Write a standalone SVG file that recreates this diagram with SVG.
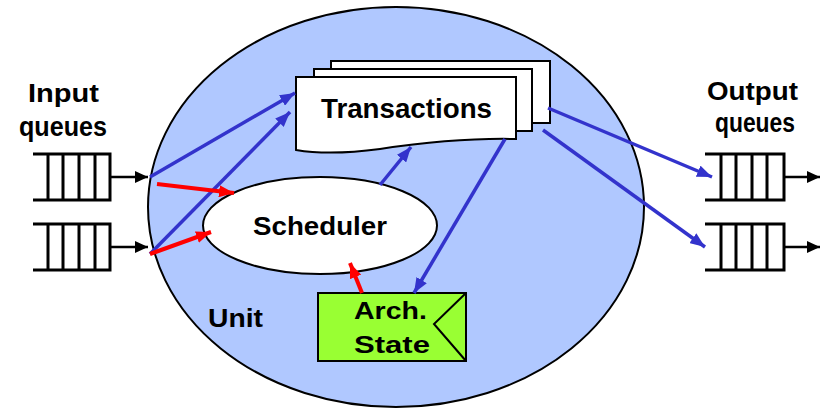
<svg xmlns="http://www.w3.org/2000/svg" width="823" height="409" viewBox="0 0 823 409">
<defs>
<style>
.lbl{font-family:"Comic Sans MS","Liberation Sans","DejaVu Sans",sans-serif;font-weight:bold;fill:#000}
.q{stroke:#000;stroke-width:3;fill:none}
.blue{stroke:#3333cc;stroke-width:3.5;fill:none}
.red{stroke:#ff0000;stroke-width:4;fill:none}
.blk{stroke:#000;stroke-width:2.5;fill:none}
.page{fill:#fff;stroke:#000;stroke-width:2}
</style>
<marker id="ab" markerUnits="userSpaceOnUse" markerWidth="16" markerHeight="12" refX="15" refY="6" orient="auto"><path d="M0,0 L15,6 L0,12 Z" fill="#3333cc"/></marker>
<marker id="ar" markerUnits="userSpaceOnUse" markerWidth="16" markerHeight="12" refX="15" refY="6" orient="auto"><path d="M0,0 L15,6 L0,12 Z" fill="#ff0000"/></marker>
<marker id="ak" markerUnits="userSpaceOnUse" markerWidth="14" markerHeight="12" refX="13" refY="6" orient="auto"><path d="M0,0 L13,6 L0,12 Z" fill="#000"/></marker>
</defs>

<g id="unit">
<ellipse cx="396" cy="207" rx="248" ry="200" fill="#b0c8ff" stroke="#000" stroke-width="2"/>
<text class="lbl" x="208" y="327" font-size="25" textLength="55" lengthAdjust="spacingAndGlyphs">Unit</text>
</g>

<g id="input-label">
<text class="lbl" x="28" y="102" font-size="25" textLength="71" lengthAdjust="spacingAndGlyphs">Input</text>
<text class="lbl" x="19" y="136" font-size="28" textLength="88" lengthAdjust="spacingAndGlyphs">queues</text>
</g>
<g id="output-label">
<text class="lbl" x="707" y="100" font-size="25" textLength="91" lengthAdjust="spacingAndGlyphs">Output</text>
<text class="lbl" x="715" y="132" font-size="28" textLength="80" lengthAdjust="spacingAndGlyphs">queues</text>
</g>

<g id="input-queue-1">
<path class="q" d="M33,154 H110 V200 H33 M48,154 V200 M63,154 V200 M79,154 V200 M95,154 V200"/>
</g>
<g id="input-queue-2">
<path class="q" d="M33,224 H110 V270 H33 M48,224 V270 M63,224 V270 M79,224 V270 M95,224 V270"/>
</g>
<g id="output-queue-1">
<path class="q" d="M705,154 H784 V200 H705 M721,154 V200 M736,154 V200 M752,154 V200 M767,154 V200"/>
</g>
<g id="output-queue-2">
<path class="q" d="M705,224 H784 V270 H705 M721,224 V270 M736,224 V270 M752,224 V270 M767,224 V270"/>
</g>

<g id="transactions">
<rect class="page" x="331" y="61" width="219" height="62"/>
<rect class="page" x="314" y="69" width="218" height="62"/>
<path class="page" d="M296,77 H516 V139 C470,138 420,143 380,149 C350,153 320,154 296,150 Z"/>
<text class="lbl" x="321" y="118" font-size="27" textLength="171" lengthAdjust="spacingAndGlyphs">Transactions</text>
</g>

<g id="scheduler">
<ellipse cx="320" cy="225.5" rx="117" ry="48.5" fill="#fff" stroke="#000" stroke-width="2"/>
<text class="lbl" x="253" y="235" font-size="26" textLength="134" lengthAdjust="spacingAndGlyphs">Scheduler</text>
</g>

<g id="arch-state">
<path d="M318,293 H466 V361 H318 Z" fill="#99ff33" stroke="#000" stroke-width="2"/>
<path d="M466,293 L434,324 L466,361" fill="none" stroke="#000" stroke-width="2"/>
<text class="lbl" x="354" y="319" font-size="24" textLength="73" lengthAdjust="spacingAndGlyphs">Arch.</text>
<text class="lbl" x="354" y="353" font-size="24" textLength="76" lengthAdjust="spacingAndGlyphs">State</text>
</g>

<g id="connectors">
<line class="blk" x1="110" y1="177" x2="148" y2="177" marker-end="url(#ak)"/>
<line class="blk" x1="110" y1="247" x2="148" y2="247" marker-end="url(#ak)"/>
<line class="blk" x1="784" y1="177" x2="820" y2="177" marker-end="url(#ak)"/>
<line class="blk" x1="784" y1="247" x2="820" y2="247" marker-end="url(#ak)"/>

<line class="blue" x1="150" y1="177" x2="295" y2="93" marker-end="url(#ab)"/>
<line class="blue" x1="150" y1="254" x2="290" y2="112" marker-end="url(#ab)"/>
<line class="blue" x1="380" y1="185" x2="411" y2="147" marker-end="url(#ab)"/>
<line class="blue" x1="505" y1="139" x2="414" y2="293" marker-end="url(#ab)"/>
<line class="blue" x1="548" y1="108" x2="712" y2="177" marker-end="url(#ab)"/>
<line class="blue" x1="543" y1="130" x2="705" y2="247" marker-end="url(#ab)"/>

<line class="red" x1="157" y1="184" x2="234" y2="193" marker-end="url(#ar)"/>
<line class="red" x1="150" y1="254" x2="211" y2="232" marker-end="url(#ar)"/>
<line class="red" x1="362" y1="293" x2="350" y2="263" marker-end="url(#ar)"/>
</g>
</svg>
